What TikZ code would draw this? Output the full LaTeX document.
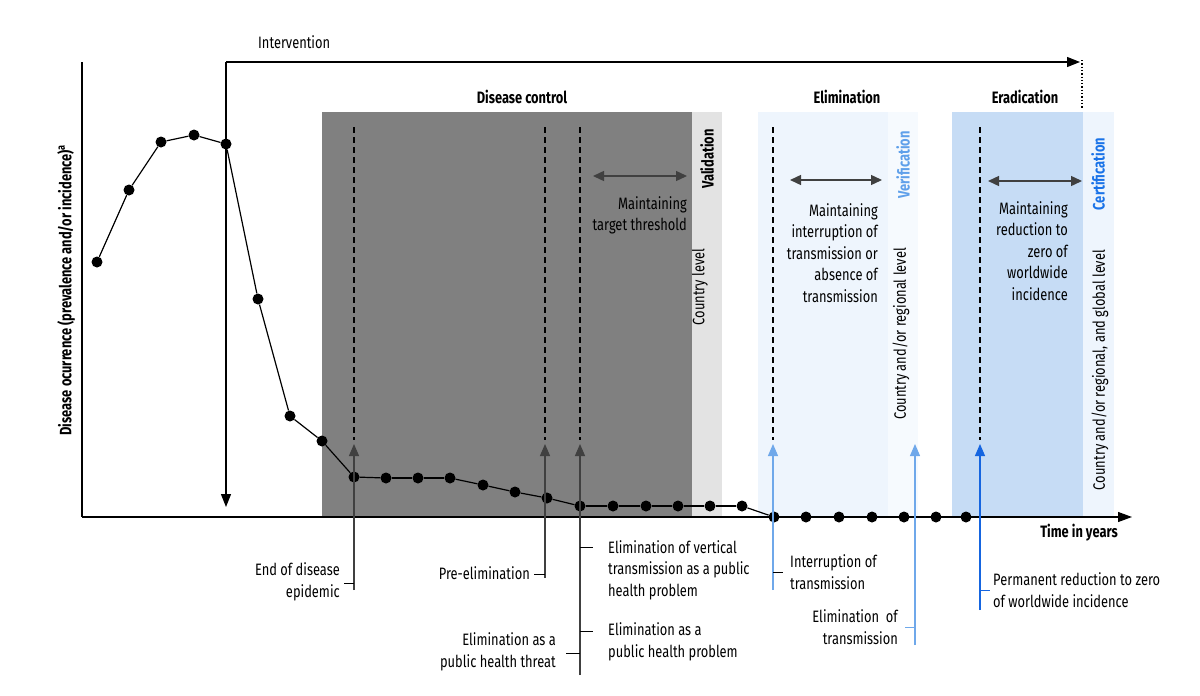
\documentclass[tikz,border=0pt]{standalone}
\usepackage{fontspec}
\setmainfont{Fira Sans}[FakeStretch=0.78]
\usetikzlibrary{arrows.meta}
\definecolor{dg}{HTML}{808080}
\definecolor{vg}{HTML}{E3E3E3}
\definecolor{el}{HTML}{EEF5FD}
\definecolor{ve}{HTML}{F6FAFE}
\definecolor{er}{HTML}{C6DCF5}
\definecolor{lb}{HTML}{6FA8EA}
\definecolor{vb}{HTML}{5FA0EA}
\definecolor{cb}{HTML}{1A73E8}
\definecolor{db}{HTML}{1565E0}
\definecolor{ag}{HTML}{404040}
\tikzset{
 x=1pt,y=-1pt,
 txt/.style={font=\fontsize{16.5}{21.5}\selectfont,inner sep=0pt},
 bt/.style={txt,font=\fontsize{16.5}{21.5}\selectfont\bfseries},
 dot/.style={circle,fill=black,inner sep=0pt,minimum size=11pt},
 vd/.style={dash pattern=on 6pt off 4pt,line width=1.1pt},
 up/.style={line width=1.2pt,-{Triangle[length=12pt,width=10pt]}},
 tick/.style={line width=1pt},
 dbl/.style={line width=1.4pt,ag,{Triangle[length=11pt,width=10pt]}-{Triangle[length=11pt,width=10pt]}},
}
\begin{document}
\begin{tikzpicture}
\useasboundingbox (0,0) rectangle (1200,696);
% bands
\fill[dg] (322,112) rectangle (692,517);
\fill[vg] (692,112) rectangle (722,517);
\fill[el] (758,112) rectangle (888,517);
\fill[ve] (888,112) rectangle (918,517);
\fill[er] (952,112) rectangle (1083,517);
\fill[el] (1083,112) rectangle (1114,517);
% titles
\node[bt] (t1) at (522,97) {Disease control};
\node[bt] (t2) at (847,97) {Elimination};
\node[bt] (t3) at (1025,97) {Eradication};
% axes
\coordinate (o) at (82,517);
\coordinate (yt) at (82,62);
\coordinate (xe) at (1132,517);
\draw[line width=1.2pt] (yt) -- (o);
\draw[line width=1.2pt,-{Triangle[length=14pt,width=10pt]}] (o) -- (xe);
\node[bt,rotate=90] (yl) at (66,290) {Disease ocurrence (prevalence and/or incidence)\textsuperscript{a}};
\node[bt,anchor=east] (tl) at (1118,533) {Time in years};
% intervention
\coordinate (i0) at (226,507);
\coordinate (i1) at (226,62);
\coordinate (i2) at (1080,62);
\draw[line width=1.2pt,-{Triangle[length=13pt,width=10pt]}] (i1) -- (i0);
\draw[line width=1.2pt,-{Triangle[length=13pt,width=10pt]}] (i1) -- (i2);
\node[txt,anchor=west] (it) at (258,42) {Intervention};
\coordinate (d0) at (1082,60); \coordinate (d1) at (1082,108);
\draw[dotted,line width=1.3pt] (d0) -- (d1);
% dashed verticals
\foreach \n/\x in {a/354,b/545,c/580,d/773,e/980}{
 \coordinate (\n t) at (\x,127); \coordinate (\n b) at (\x,440);
 \draw[vd] (\n t) -- (\n b);}
% data
\foreach [count=\i] \x/\y in {97/262,129/190,161/142,194/135,226/144,258/299,290/416,322/441,354/477,386/478,418/478,450/478,483/485,515/492,547/498,580/506,613/506,646/506,678/506,710/506,742/506,774/517}{
 \node[dot] (p\i) at (\x,\y) {};
 \ifnum\i>1 \pgfmathtruncatemacro\j{\i-1}\draw[line width=1.2pt] (p\j) -- (p\i);\fi}
\foreach [count=\i] \x in {806,839,872,904,936,966}{\node[dot] (q\i) at (\x,517) {};}
\draw[dash pattern=on 5pt off 4pt,line width=1.2pt] (p22) -- (q1) -- (q2) -- (q3) -- (q4) -- (q5) -- (q6) -- (1118,517);
% double arrows
\coordinate (m1a) at (593,176); \coordinate (m1b) at (687,176);
\coordinate (m2a) at (790,180); \coordinate (m2b) at (882,180);
\coordinate (m3a) at (988,181); \coordinate (m3b) at (1082,181);
\draw[dbl] (m1a) -- (m1b); \draw[dbl] (m2a) -- (m2b); \draw[dbl] (m3a) -- (m3b);
\node[txt,anchor=north east,align=right] (mt1) at (687,196) {Maintaining\\target threshold};
\node[txt,anchor=north east,align=right] (mt2) at (878,203) {Maintaining\\interruption of\\transmission or\\absence of\\transmission};
\node[txt,anchor=north east,align=right] (mt3) at (1068,201) {Maintaining\\reduction to\\zero of\\worldwide\\incidence};
% rotated labels
\node[bt,rotate=90] (v1) at (707,159) {Validation};
\node[txt,rotate=90] (v2) at (700,287) {Country level};
\node[bt,rotate=90,text=vb] (v3) at (903,165) {Verification};
\node[txt,rotate=90] (v4) at (901,334) {Country and/or regional level};
\node[bt,rotate=90,text=cb] (v5) at (1098,174) {Certification};
\node[txt,rotate=90] (v6) at (1100,370) {Country and/or regional, and global level};
% up arrows
\coordinate (ua) at (354,590); \coordinate (ub) at (545,578); \coordinate (uc) at (580,675);
\coordinate (ud) at (773,590); \coordinate (ue) at (915,645); \coordinate (uf) at (980,610);
\draw[up,ag] (ua) -- (354,444);
\draw[up,ag] (ub) -- (545,444);
\draw[up,ag] (uc) -- (580,444);
\draw[up,lb] (ud) -- (773,444);
\draw[up,lb] (ue) -- (915,444);
\draw[up,db] (uf) -- (980,444);
% labels
\node[txt,anchor=east,align=right] (l1) at (340,582) {End of disease\\epidemic};
\draw[tick] (344,583) -- (354,583);
\node[txt,anchor=east] (l2) at (530,573) {Pre-elimination};
\draw[tick] (534,574) -- (545,574);
\node[txt,anchor=east,align=right] (l3) at (556,652) {Elimination as a\\public health threat};
\draw[tick] (566,653) -- (580,653);
\node[txt,anchor=west,align=left] (l4) at (608,570) {Elimination of vertical\\transmission as a public\\health problem};
\draw[tick] (580,547) -- (593,547);
\node[txt,anchor=west,align=left] (l5) at (608,642) {Elimination as a\\public health problem};
\draw[tick] (580,631) -- (593,631);
\node[txt,anchor=west,align=left] (l6) at (790,572) {Interruption of\\transmission};
\draw[tick] (773,572) -- (783,572);
\node[txt,anchor=east,align=right] (l7) at (898,627) {Elimination\ \ of\\transmission};
\draw[tick,lb] (905,627) -- (915,627);
\node[txt,anchor=west,align=left] (l8) at (993,590) {Permanent reduction to zero\\of worldwide incidence};
\draw[tick,db] (980,590) -- (990,590);
\end{tikzpicture}
\end{document}
